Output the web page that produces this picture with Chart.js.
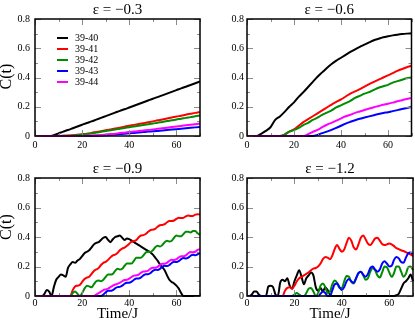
<!DOCTYPE html>
<html>
<head>
<meta charset="utf-8">
<script src="https://cdn.jsdelivr.net/npm/chart.js@4.4.0/dist/chart.umd.min.js"></script>
<style>
  body { margin: 0; background: #fff; }
  #wrap { position: relative; width: 415px; height: 322px; overflow: hidden; background: #fff; }
  canvas { position: absolute; }
</style>
</head>
<body>
<div id="wrap">
  <canvas id="p1" width="207" height="161" style="left:0px;top:0px"></canvas>
  <canvas id="p2" width="208" height="161" style="left:207px;top:0px"></canvas>
  <canvas id="p3" width="207" height="162" style="left:0px;top:160px"></canvas>
  <canvas id="p4" width="208" height="162" style="left:207px;top:160px"></canvas>
</div>
<script>
// legend labels and panel titles
const pairLabels = ['39-40', '39-41', '39-42', '39-43', '39-44'];
const epsLabels = ['ε = −0.3', 'ε = −0.6', 'ε = −0.9', 'ε = −1.2'];

// time axes (Time/J)
const timeCoarse = [0, 2, 4, 6, 8, 10, 12, 14, 16, 18, 20, 22, 24, 26, 28, 30, 32, 34,
    36, 38, 40, 42, 44, 46, 48, 50, 52, 54, 56, 58, 60, 62, 64, 66, 68, 70];
const timeFine = [0, 1, 2, 3, 4, 5, 6, 7, 8, 9, 10, 11, 12, 13, 14, 15, 16, 17, 18, 19,
    20, 21, 22, 23, 24, 25, 26, 27, 28, 29, 30, 31, 32, 33, 34, 35, 36, 37, 38, 39,
    40, 41, 42, 43, 44, 45, 46, 47, 48, 49, 50, 51, 52, 53, 54, 55, 56, 57, 58, 59,
    60, 61, 62, 63, 64, 65, 66, 67, 68, 69, 70];

// eps = -0.3 (on timeCoarse)
const c03_40 = [0, 0, 0, 0, 0.006, 0.018, 0.03, 0.041, 0.053, 0.065, 0.077, 0.089, 0.1, 0.112, 0.124, 0.136, 0.148, 0.16,
    0.172, 0.183, 0.195, 0.207, 0.219, 0.231, 0.243, 0.255, 0.266, 0.278, 0.29, 0.302, 0.314, 0.326, 0.337, 0.349, 0.361, 0.373];
const c03_41 = [0, 0, 0, 0, 0, 0, 0.001, 0.003, 0.005, 0.008, 0.012, 0.016, 0.021, 0.027, 0.033, 0.039, 0.045, 0.051,
    0.057, 0.064, 0.07, 0.076, 0.082, 0.088, 0.094, 0.1, 0.107, 0.113, 0.12, 0.126, 0.133, 0.139, 0.146, 0.152, 0.158, 0.165];
const c03_42 = [0, 0, 0, 0, 0, 0, 0.001, 0.002, 0.004, 0.007, 0.01, 0.014, 0.018, 0.023, 0.029, 0.034, 0.039, 0.044,
    0.05, 0.055, 0.06, 0.065, 0.07, 0.075, 0.08, 0.085, 0.091, 0.096, 0.102, 0.107, 0.113, 0.118, 0.124, 0.129, 0.135, 0.14];
const c03_43 = [0, 0, 0, 0, 0, 0, 0, 0, 0, 0, 0, 0, 0, 0.001, 0.003, 0.005, 0.007, 0.01,
    0.013, 0.016, 0.018, 0.021, 0.024, 0.027, 0.03, 0.032, 0.035, 0.038, 0.041, 0.044, 0.047, 0.05, 0.053, 0.056, 0.059, 0.062];
const c03_44 = [0, 0, 0, 0, 0, 0, 0, 0, 0, 0, 0, 0.001, 0.003, 0.005, 0.007, 0.01, 0.013, 0.016,
    0.02, 0.023, 0.027, 0.03, 0.034, 0.038, 0.041, 0.045, 0.049, 0.053, 0.057, 0.061, 0.065, 0.069, 0.073, 0.077, 0.081, 0.085];

// eps = -0.6 (on timeCoarse)
const c06_40 = [0, 0, 0, 0.015, 0.035, 0.06, 0.11, 0.134, 0.165, 0.2, 0.23, 0.268, 0.3, 0.335, 0.37, 0.405, 0.435, 0.465,
    0.492, 0.515, 0.535, 0.555, 0.575, 0.593, 0.61, 0.625, 0.64, 0.655, 0.665, 0.675, 0.682, 0.688, 0.693, 0.697, 0.7, 0.702];
const c06_41 = [0, 0, 0, 0, 0, 0, 0, 0, 0.01, 0.03, 0.045, 0.07, 0.095, 0.115, 0.135, 0.155, 0.175, 0.195,
    0.215, 0.233, 0.25, 0.27, 0.29, 0.305, 0.32, 0.338, 0.355, 0.37, 0.385, 0.4, 0.415, 0.43, 0.445, 0.458, 0.47, 0.48];
const c06_42 = [0, 0, 0, 0, 0, 0, 0, 0, 0.01, 0.03, 0.04, 0.055, 0.075, 0.09, 0.11, 0.125, 0.145, 0.16,
    0.175, 0.195, 0.21, 0.225, 0.24, 0.26, 0.275, 0.29, 0.3, 0.315, 0.33, 0.34, 0.35, 0.365, 0.375, 0.385, 0.395, 0.4];
const c06_43 = [0, 0, 0, 0, 0, 0, 0, 0, 0, 0, 0, 0, 0, 0, 0, 0.008, 0.02, 0.03,
    0.042, 0.055, 0.07, 0.085, 0.097, 0.108, 0.118, 0.126, 0.134, 0.142, 0.15, 0.157, 0.163, 0.17, 0.177, 0.184, 0.191, 0.198];
const c06_44 = [0, 0, 0, 0, 0, 0, 0, 0, 0, 0, 0, 0, 0, 0.012, 0.028, 0.042, 0.06, 0.077,
    0.09, 0.105, 0.12, 0.135, 0.145, 0.158, 0.168, 0.178, 0.188, 0.197, 0.205, 0.213, 0.22, 0.228, 0.237, 0.245, 0.253, 0.26];

// eps = -0.9 (on timeFine)
const c09_40 = [0, 0, 0, 0, 0.015, 0.04, 0.03, 0, 0.06, 0.11,
    0.13, 0.145, 0.14, 0.13, 0.19, 0.215, 0.23, 0.225, 0.24, 0.25,
    0.27, 0.29, 0.3, 0.31, 0.33, 0.35, 0.36, 0.365, 0.38, 0.395,
    0.4, 0.38, 0.365, 0.385, 0.4, 0.405, 0.41, 0.395, 0.38, 0.39,
    0.385, 0.375, 0.365, 0.355, 0.345, 0.335, 0.325, 0.315, 0.305, 0.295,
    0.28, 0.26, 0.24, 0.215, 0.195, 0.175, 0.14, 0.11, 0.095, 0.085,
    0.07, 0.05, 0.02, 0, 0, 0, 0, 0, 0, 0, 0];
const c09_41 = [0, 0, 0, 0, 0, 0, 0, 0, 0, 0,
    0, 0, 0, 0, 0, 0, 0.04, 0.065, 0.07, 0.075,
    0.095, 0.115, 0.125, 0.13, 0.15, 0.17, 0.18, 0.19, 0.21, 0.225,
    0.232, 0.245, 0.262, 0.275, 0.28, 0.292, 0.31, 0.322, 0.328, 0.34,
    0.355, 0.368, 0.372, 0.38, 0.398, 0.41, 0.413, 0.42, 0.435, 0.447,
    0.45, 0.455, 0.47, 0.48, 0.482, 0.487, 0.5, 0.508, 0.508, 0.512,
    0.523, 0.53, 0.528, 0.53, 0.54, 0.545, 0.542, 0.543, 0.552, 0.555, 0.552];
const c09_42 = [0, 0, 0, 0, 0, 0, 0, 0, 0, 0,
    0, 0, 0, 0, 0, 0, 0.02, 0.03, 0.015, 0,
    0.02, 0.05, 0.07, 0.065, 0.06, 0.08, 0.1, 0.105, 0.1, 0.11,
    0.13, 0.145, 0.145, 0.15, 0.17, 0.185, 0.18, 0.185, 0.205, 0.22,
    0.22, 0.22, 0.24, 0.26, 0.26, 0.26, 0.275, 0.295, 0.3, 0.298,
    0.31, 0.33, 0.34, 0.335, 0.345, 0.365, 0.375, 0.37, 0.375, 0.395,
    0.41, 0.405, 0.405, 0.42, 0.435, 0.435, 0.43, 0.44, 0.44, 0.425, 0.415];
const c09_43 = [0, 0, 0, 0, 0, 0, 0, 0, 0, 0,
    0, 0, 0, 0, 0, 0, 0, 0, 0, 0,
    0, 0, 0, 0, 0, 0, 0, 0, 0, 0.01,
    0.025, 0.035, 0.035, 0.04, 0.052, 0.06, 0.062, 0.07, 0.083, 0.09,
    0.09, 0.098, 0.11, 0.118, 0.118, 0.126, 0.14, 0.148, 0.148, 0.156,
    0.17, 0.178, 0.177, 0.184, 0.198, 0.205, 0.203, 0.21, 0.224, 0.232,
    0.23, 0.236, 0.25, 0.257, 0.254, 0.26, 0.273, 0.28, 0.277, 0.283, 0.292];
const c09_44 = [0, 0, 0, 0, 0, 0, 0, 0, 0, 0,
    0, 0, 0, 0, 0, 0, 0, 0, 0, 0,
    0, 0, 0, 0, 0, 0, 0.01, 0.02, 0.03, 0.04,
    0.045, 0.05, 0.06, 0.07, 0.078, 0.082, 0.09, 0.1, 0.108, 0.11,
    0.118, 0.13, 0.138, 0.14, 0.145, 0.158, 0.166, 0.167, 0.172, 0.185,
    0.192, 0.192, 0.198, 0.21, 0.218, 0.218, 0.225, 0.238, 0.245, 0.244,
    0.25, 0.262, 0.27, 0.27, 0.276, 0.29, 0.298, 0.296, 0.3, 0.312, 0.318];

// eps = -1.2 (on timeFine); no 39-44 curve visible
const c12_40 = [0, 0, 0.01, 0.03, 0.03, 0.01, 0, 0, 0, 0.065,
    0.07, 0.06, 0.01, 0, 0.09, 0.11, 0.1, 0.12, 0.07, 0.05,
    0.1, 0.14, 0.175, 0.13, 0.08, 0.12, 0.14, 0.16, 0.14, 0.06,
    0.035, 0.055, 0.03, 0.06, 0.04, 0.01, 0, 0, 0, 0,
    0, 0, 0, 0, 0, 0, 0, 0, 0, 0,
    0, 0, 0, 0, 0, 0, 0, 0, 0, 0,
    0, 0, 0, 0.005, 0.015, 0.05, 0.085, 0.1, 0.12, 0.145, 0.1];
const c12_41 = [0, 0, 0, 0, 0, 0, 0, 0, 0, 0,
    0, 0, 0, 0, 0, 0, 0.035, 0.055, 0.06, 0.05,
    0.07, 0.1, 0.12, 0.13, 0.14, 0.15, 0.16, 0.175, 0.185, 0.19,
    0.2, 0.22, 0.25, 0.265, 0.26, 0.25, 0.275, 0.32, 0.345, 0.32,
    0.3, 0.315, 0.36, 0.395, 0.375, 0.33, 0.315, 0.35, 0.395, 0.41,
    0.385, 0.355, 0.345, 0.365, 0.39, 0.395, 0.375, 0.352, 0.345, 0.35,
    0.356, 0.35, 0.338, 0.325, 0.318, 0.31, 0.305, 0.298, 0.29, 0.28, 0.272];
const c12_42 = [0, 0, 0, 0, 0, 0, 0, 0, 0, 0,
    0, 0, 0, 0, 0, 0, 0, 0, 0, 0,
    0.01, 0.02, 0.01, 0, 0, 0.02, 0.05, 0.055, 0.03, 0,
    0.02, 0.07, 0.085, 0.06, 0.02, 0.03, 0.08, 0.105, 0.09, 0.055,
    0.055, 0.1, 0.135, 0.13, 0.095, 0.085, 0.12, 0.155, 0.165, 0.14,
    0.11, 0.12, 0.165, 0.19, 0.175, 0.14, 0.125, 0.16, 0.2, 0.195,
    0.16, 0.13, 0.155, 0.2, 0.2, 0.165, 0.13, 0.15, 0.195, 0.2, 0.175];
const c12_43 = [0, 0, 0, 0, 0, 0, 0, 0, 0, 0,
    0, 0, 0, 0, 0, 0, 0, 0, 0, 0,
    0, 0, 0, 0, 0, 0, 0, 0, 0, 0,
    0, 0.015, 0.03, 0.02, 0, 0, 0.04, 0.08, 0.085, 0.06,
    0.04, 0.06, 0.1, 0.115, 0.1, 0.09, 0.12, 0.155, 0.165, 0.145,
    0.13, 0.15, 0.19, 0.2, 0.18, 0.165, 0.18, 0.22, 0.235, 0.22,
    0.2, 0.205, 0.245, 0.265, 0.255, 0.23, 0.225, 0.26, 0.29, 0.295, 0.285];

const lineColors = ['#000000', '#ff0000', '#008c00', '#0000ff', '#ff00ff'];
const serif = '"Liberation Serif", "Times New Roman", serif';

Chart.defaults.font.family = serif;
Chart.defaults.color = '#000';

// inward ticks on all four sides, black frame, y title and the inset legend
const framePlugin = {
    id: 'frameTicks',
    afterDatasetsDraw(chart, args, opts) {
        const ctx = chart.ctx;
        const a = chart.chartArea;
        const xs = chart.scales.x;
        const ys = chart.scales.y;
        ctx.save();
        ctx.strokeStyle = '#8c8c8c';
        ctx.lineWidth = 1;
        ctx.beginPath();
        xs.ticks.forEach(t => {
            const px = Math.round(xs.getPixelForValue(t.value)) + 0.5;
            const len = t.value % 20 === 0 ? 6 : 3;
            ctx.moveTo(px, a.top); ctx.lineTo(px, a.top + len);
            ctx.moveTo(px, a.bottom); ctx.lineTo(px, a.bottom - len);
        });
        ys.ticks.forEach(t => {
            const py = Math.round(ys.getPixelForValue(t.value)) + 0.5;
            const len = Math.round(t.value * 10) % 2 === 0 ? 6 : 3;
            ctx.moveTo(a.left, py); ctx.lineTo(a.left + len, py);
            ctx.moveTo(a.right, py); ctx.lineTo(a.right - len, py);
        });
        ctx.stroke();

        ctx.strokeStyle = '#000';
        ctx.lineWidth = 1.5;
        ctx.strokeRect(a.left, a.top, a.right - a.left, a.bottom - a.top);

        if (opts.yTitle) {
            ctx.save();
            ctx.translate(opts.yTitleX, (a.top + a.bottom) / 2 + opts.yTitleDy);
            ctx.rotate(-Math.PI / 2);
            ctx.font = '16px ' + serif;
            ctx.fillStyle = '#000';
            ctx.textAlign = 'center';
            ctx.textBaseline = 'middle';
            ctx.fillText(opts.yTitle, 0, 0);
            ctx.restore();
        }

        if (opts.legend) {
            ctx.font = '10px ' + serif;
            ctx.textBaseline = 'middle';
            ctx.textAlign = 'left';
            chart.data.datasets.forEach((ds, i) => {
                const ly = Math.round(a.top + 19 + i * 10.9);
                ctx.strokeStyle = ds.borderColor;
                ctx.lineWidth = 2;
                ctx.beginPath();
                ctx.moveTo(a.left + 22, ly);
                ctx.lineTo(a.left + 33, ly);
                ctx.stroke();
                ctx.fillStyle = '#000';
                ctx.fillText(ds.label, a.left + 40, ly);
            });
        }
        ctx.restore();
    }
};

function buildPanel(p) {
    const datasets = p.series.map((vals, i) => ({
        label: pairLabels[i],
        data: vals.map((v, k) => ({ x: p.time[k], y: v })),
        borderColor: lineColors[i],
        borderWidth: 2,
        pointRadius: 0,
        cubicInterpolationMode: 'monotone',
        clip: false,
        order: -i
    }));

    return new Chart(document.getElementById(p.id), {
        type: 'line',
        data: { datasets: datasets },
        plugins: [framePlugin],
        options: {
            responsive: false,
            animation: false,
            devicePixelRatio: 1,
            layout: { padding: { left: 0, right: p.padRight, top: 0, bottom: 0 } },
            plugins: {
                legend: { display: false },
                tooltip: { enabled: false },
                title: {
                    display: true,
                    text: p.title,
                    fullSize: false,
                    color: '#000',
                    font: { size: 15, weight: 'normal', family: serif, lineHeight: 1.2 },
                    padding: { top: p.titleTop, bottom: 0 }
                },
                frameTicks: {
                    yTitle: p.yTitle,
                    yTitleX: 7,
                    yTitleDy: p.yTitleDy,
                    legend: p.legend
                }
            },
            scales: {
                x: {
                    type: 'linear',
                    min: 0,
                    max: 70,
                    grid: { display: false, drawTicks: false },
                    border: { display: false },
                    ticks: {
                        stepSize: 10,
                        padding: p.xPad,
                        maxRotation: 0,
                        autoSkip: false,
                        font: { size: 10 },
                        callback: v => (v % 20 === 0 ? String(v) : '')
                    },
                    title: {
                        display: p.xTitle,
                        text: 'Time/J',
                        font: { size: 15, lineHeight: 1 },
                        padding: { top: 0, bottom: 0 }
                    },
                    afterFit: s => { s.height = p.xHeight; }
                },
                y: {
                    min: 0,
                    max: 0.8,
                    grid: { display: false, drawTicks: false },
                    border: { display: false },
                    ticks: {
                        stepSize: 0.1,
                        padding: p.yPad,
                        autoSkip: false,
                        font: { size: 10 },
                        callback: v => {
                            const k = Math.round(v * 10);
                            if (k % 2 !== 0) return '';
                            return k === 0 ? '0' : (k / 10).toFixed(1);
                        }
                    },
                    afterFit: s => { s.width = p.yWidth; }
                }
            }
        }
    });
}

const panels = [
    { id: 'p1', title: epsLabels[0], time: timeCoarse, series: [c03_40, c03_41, c03_42, c03_43, c03_44],
      yTitle: 'C(t)', yTitleDy: -1, xTitle: false, legend: true,
      yWidth: 35, padRight: 7, xHeight: 25, xPad: 3.5, yPad: 5, titleTop: 1 },
    { id: 'p2', title: epsLabels[1], time: timeCoarse, series: [c06_40, c06_41, c06_42, c06_43, c06_44],
      yTitle: null, yTitleDy: 0, xTitle: false, legend: false,
      yWidth: 40, padRight: 2, xHeight: 25, xPad: 3.5, yPad: 3, titleTop: 1 },
    { id: 'p3', title: epsLabels[2], time: timeFine, series: [c09_40, c09_41, c09_42, c09_43, c09_44],
      yTitle: 'C(t)', yTitleDy: -10, xTitle: true, legend: false,
      yWidth: 35, padRight: 7, xHeight: 26, xPad: 1.2, yPad: 5, titleTop: 0 },
    { id: 'p4', title: epsLabels[3], time: timeFine, series: [c12_40, c12_41, c12_42, c12_43],
      yTitle: null, yTitleDy: 0, xTitle: true, legend: false,
      yWidth: 40, padRight: 2, xHeight: 26, xPad: 1.2, yPad: 3, titleTop: 0 }
];

panels.forEach(buildPanel);
</script>
</body>
</html>
